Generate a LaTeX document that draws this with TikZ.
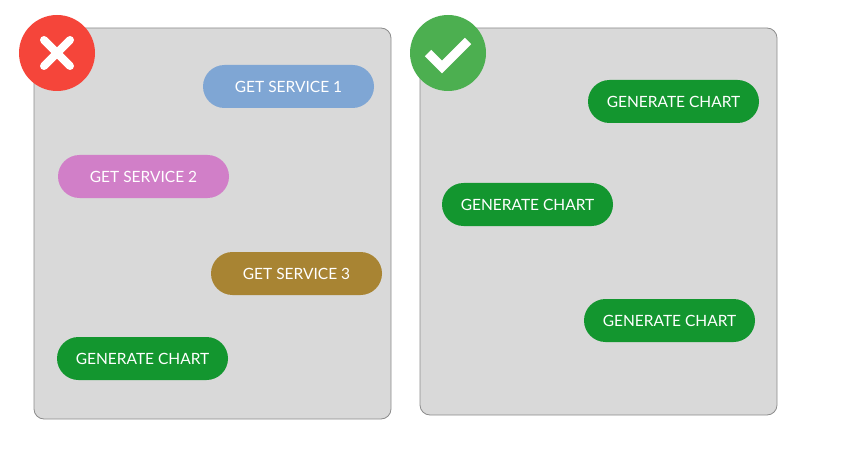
\documentclass[tikz,border=0pt]{standalone}
\usepackage{fontspec}
\setmainfont{Lato}
\usetikzlibrary{calc}

\definecolor{panelgray}{HTML}{D9D9D9}
\definecolor{bordergray}{HTML}{8C8C8C}
\definecolor{svcblue}{HTML}{7FA6D4}
\definecolor{svcpink}{HTML}{D17FC8}
\definecolor{svcgold}{HTML}{A88433}
\definecolor{chartgreen}{HTML}{13962F}
\definecolor{badred}{HTML}{F5453A}
\definecolor{goodgreen}{HTML}{4CAF50}

\tikzset{
  panel/.style={fill=panelgray,draw=bordergray,line width=0.8pt,rounded corners=10pt},
  pill/.style={fill=#1,text=white,rounded corners=21.5pt,minimum width=171pt,
    minimum height=43pt,inner sep=0pt,font=\fontsize{15.5}{18}\selectfont},
  mark stroke/.style={white,line width=8pt}
}

\begin{document}
\begin{tikzpicture}[x=1pt,y=-1pt]
      \useasboundingbox (0,0) rectangle (856,449);
      % panels
      \draw[panel] (34,28) rectangle (391,419);
      \draw[panel] (420,28) rectangle (777,415);
      % wrong order
      \node[pill=svcblue] (svcone) at (288.5,86.5) {GET SERVICE 1};
      \node[pill=svcpink] (svctwo) at (143.5,176.5) {GET SERVICE 2};
      \node[pill=svcgold] (svcthree) at (296.5,273.5) {GET SERVICE 3};
      \node[pill=chartgreen] (chartleft) at (142.5,358.5) {GENERATE CHART};
      % right order
      \node[pill=chartgreen] (chartone) at (673.5,101.5) {GENERATE CHART};
      \node[pill=chartgreen] (charttwo) at (527.5,204.5) {GENERATE CHART};
      \node[pill=chartgreen] (chartthree) at (669.5,320.5) {GENERATE CHART};
      % badges
      \coordinate (bad) at (57,53);
      \coordinate (good) at (448,53);
      \fill[badred] (bad) circle (38);
      \draw[mark stroke,line cap=round] ($(bad)+(-13,-13)$) -- ($(bad)+(13,13)$);
      \draw[mark stroke,line cap=round] ($(bad)+(-13,13)$) -- ($(bad)+(13,-13)$);
      \fill[goodgreen] (good) circle (38);
      \draw[mark stroke,line width=9pt] ($(good)+(-20,0)$) -- ($(good)+(-6,14)$) -- ($(good)+(20,-12)$);
\end{tikzpicture}
\end{document}
